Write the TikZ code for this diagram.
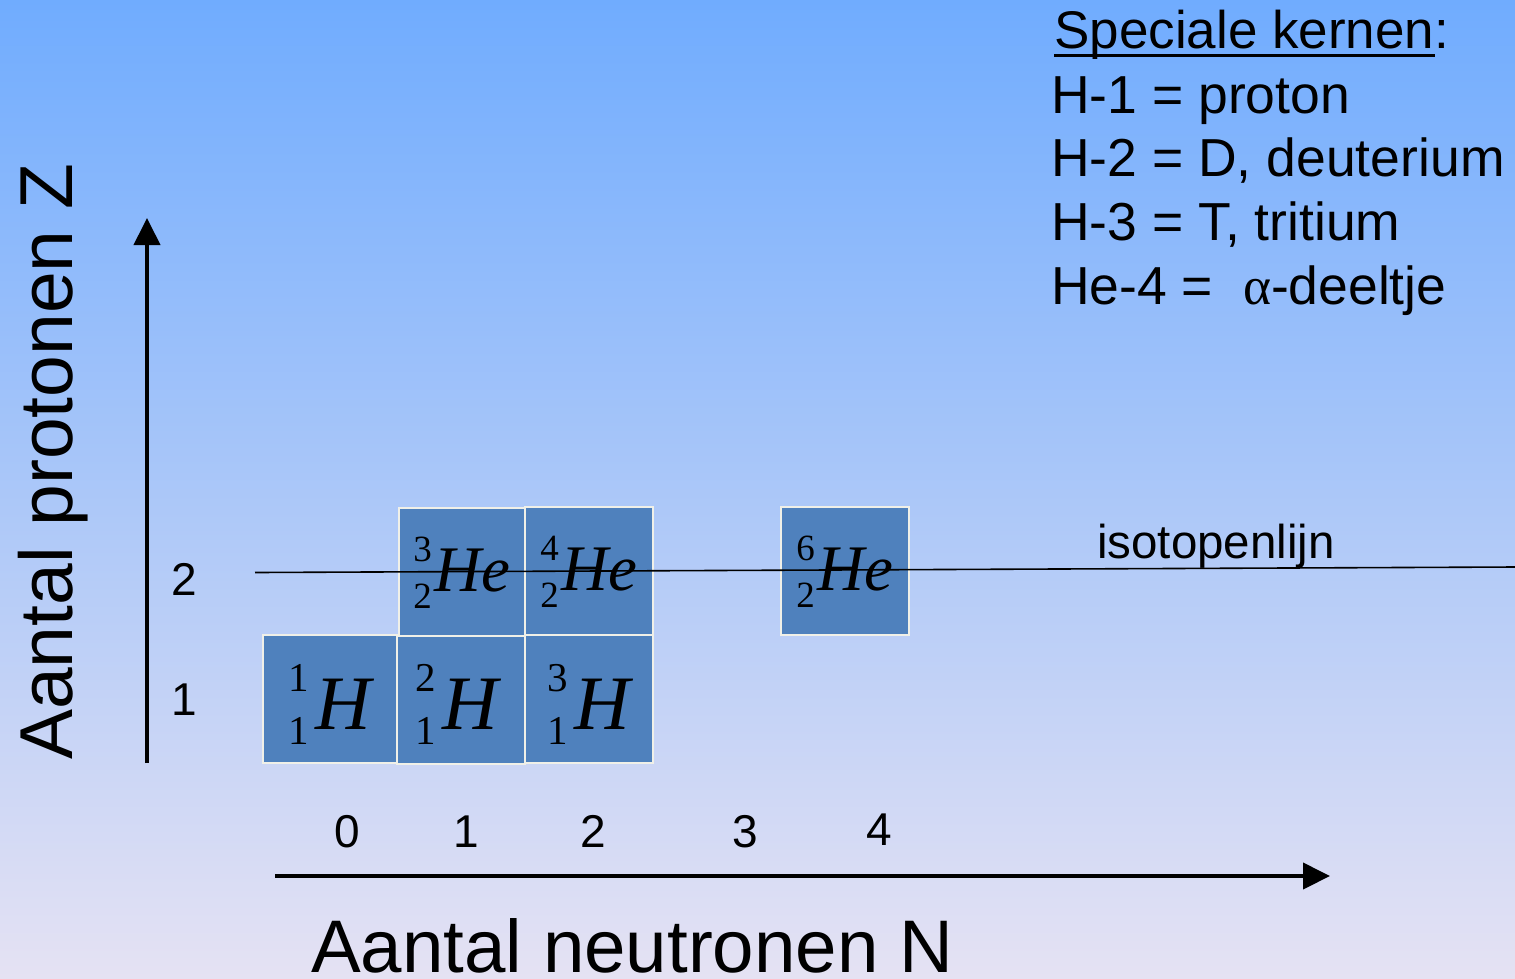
\documentclass[tikz,border=0pt]{standalone}
\usepackage{fontspec}
\setmainfont{Liberation Sans}
\newfontfamily\tms{Liberation Serif}
\usetikzlibrary{arrows.meta}
\definecolor{bgtop}{RGB}{112,172,254}
\definecolor{bgmid}{RGB}{168,204,241}
\definecolor{bgbot}{RGB}{229,226,243}
\definecolor{boxfill}{RGB}{79,129,189}
\definecolor{boxedge}{RGB}{240,240,232}
\newcommand\nnumH{\tms\fontsize{41}{41}\selectfont}
\newcommand\nsymH{\tms\itshape\fontsize{77}{77}\selectfont}
\newcommand\nnumHe{\tms\fontsize{37}{37}\selectfont}
\newcommand\nsymHe{\tms\itshape\fontsize{65}{65}\selectfont}
\newcommand\nucH[3][0pt]{\smash{\kern#1\rlap{\raisebox{8pt}{\nnumH #2}}\raisebox{-45pt}{\nnumH #3}\kern6pt\raisebox{-30pt}{\nsymH H}}}
\newcommand\nucHe[2]{\smash{\rlap{\raisebox{11pt}{\nnumHe #1}}\raisebox{-36pt}{\nnumHe #2}\kern3pt\raisebox{-19pt}{\nsymHe He}}}
\tikzset{
  nbox/.style={draw=boxedge, line width=2pt, fill=boxfill, minimum height=128pt, minimum width=128pt, inner sep=0pt},
  txt/.style={inner sep=0pt, anchor=base west, font=\fontsize{53.5}{53.5}\selectfont},
  num/.style={inner sep=0pt, anchor=base, font=\fontsize{46}{46}\selectfont},
  axis/.style={line width=4pt, -{Triangle[length=27pt,width=26pt]}},
}
\begin{document}
\begin{tikzpicture}[x=1pt,y=-1pt]
\useasboundingbox (0,0) rectangle (1515,978);
\shade[top color=bgtop, middle color=bgmid, bottom color=bgbot] (0,0) rectangle (1515,978);

% boxes
\node[nbox, minimum width=134pt] (h1) at (330,699) {\nucH{1}{1}};
\node[nbox] (h2) at (461,699.5) {\nucH{2}{1}\kern8pt};
\node[nbox] (h3) at (589,699) {\nucH{3}{1}};
\node[nbox, minimum width=126pt] (he3) at (462,572) {\nucHe{3}{2}};
\node[nbox] (he4) at (589,571) {\nucHe{4}{2}};
\node[nbox] (he6) at (845,571) {\nucHe{6}{2}};

% isotope line
\coordinate (iso0) at (255,572.5);
\coordinate (iso1) at (1515,567);
\draw[line width=1.6pt] (iso0) -- (iso1);
\node[txt, font=\fontsize{47.5}{47.5}\selectfont] (isolbl) at (1097,558) {isotopenlijn};

% axes
\coordinate (yb) at (147,763);
\coordinate (yt) at (147,218);
\draw[axis] (yb) -- (yt);
\coordinate (xb) at (275,876);
\coordinate (xt) at (1330,876);
\draw[axis] (xb) -- (xt);

% axis labels
\node[txt, font=\fontsize{75}{75}\selectfont, rotate=90] (ylbl) at (72,760) {Aantal protonen Z};
\node[txt, font=\fontsize{74.5}{74.5}\selectfont] (xlbl) at (311,972) {Aantal neutronen N};

% tick numbers
\node[num] (n0) at (347,847) {0};
\node[num] (n1) at (466,847) {1};
\node[num] (n2) at (593,847) {2};
\node[num] (n3) at (745,847) {3};
\node[num] (n4) at (879,845) {4};
\node[num] (z2) at (184,595) {2};
\node[num] (z1) at (184,715) {1};

% special nuclei
\node[txt, font=\fontsize{53}{53}\selectfont] (t0) at (1054,48) {Speciale kernen};
\node[txt, font=\fontsize{53}{53}\selectfont] (t0c) at (t0.base east) {:};
\draw[line width=3pt] ([yshift=-7.5pt]t0.base west) -- ([yshift=-7.5pt]t0.base east);
\node[txt] (t1) at (1051,113) {H-1 = proton};
\node[txt] (t2) at (1051,176) {H-2 = D, deuterium};
\node[txt] (t3) at (1051,240) {H-3 = T, tritium};
\node[txt] (t4) at (1051,304) {He-4 = \ {\tms α}-deeltje};
\end{tikzpicture}
\end{document}
